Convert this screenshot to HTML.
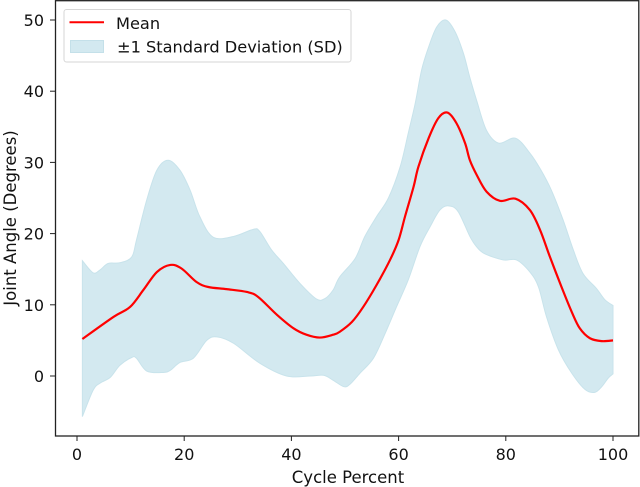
<!DOCTYPE html>
<html>
<head>
<meta charset="utf-8">
<style>
html,body{margin:0;padding:0;background:#fff;width:640px;height:487px;overflow:hidden}
svg{display:block;font-family:"DejaVu Sans","Liberation Sans",sans-serif;fill:#111;filter:blur(0.35px)}
</style>
</head>
<body>
<svg id="chart" width="640" height="487" viewBox="0 0 640 487" xmlns="http://www.w3.org/2000/svg">
  <g id="plot"></g>
  <g id="xticks"></g>
  <g id="yticks"></g>
  <rect x="55.5" y="0.7" width="583.3" height="435.3" fill="none" stroke="#222" stroke-width="1.3"/>
  <text x="348" y="483" font-size="16.5" text-anchor="middle">Cycle Percent</text>
  <text transform="translate(16,218) rotate(-90)" font-size="16.5" text-anchor="middle">Joint Angle (Degrees)</text>
  <g>
    <rect x="64" y="9.5" width="287" height="52.5" rx="2.5" fill="#fff" stroke="#d6d6d6" stroke-width="1"/>
    <line x1="69.5" y1="22.3" x2="104" y2="22.3" stroke="#ff0000" stroke-width="2"/>
    <text x="116" y="29" font-size="16.2">Mean</text>
    <rect x="70.5" y="40.5" width="33" height="12" fill="#d3e9f0" stroke="#c4e0e9"/>
    <text x="117" y="52.5" font-size="16.2">±1 Standard Deviation (SD)</text>
  </g>
</svg>
<script>
const meanX = [1,6.8,9.9,12.4,14.9,17.4,19.5,22.3,24.5,27.9,31.7,33.8,37.3,40.4,42.8,45.3,47.8,49,51.3,53.4,55.9,58.4,60,61.2,62.8,63.7,65.6,67.4,69.1,70.8,72.4,73.3,74.6,76.4,78.9,81.8,84.5,86.4,88.2,90.4,92.3,93.8,95.7,97.9,100];
const meanY = [5.2,8.3,9.7,12.1,14.6,15.6,15.1,13.2,12.5,12.2,11.8,11.1,8.6,6.7,5.8,5.4,5.8,6.2,7.6,9.7,12.8,16.3,19.1,22.4,26.6,29.4,33.4,36.2,37,35.5,32.7,30.3,28.2,25.9,24.6,24.9,23.3,20.5,16.8,12.5,9,6.7,5.3,4.9,5];
const upperX = [1,3,4.3,5.8,8,10.2,11.1,13,14.9,17,19.2,21.1,22.9,25.4,29.2,32.9,34.1,36.3,38.5,41.6,44.7,46.3,47.8,49,51.9,53.7,55.9,58.1,60.3,61.8,63.1,64.3,65.6,67.1,68.8,70.5,72.1,73.3,74.6,76.4,78.7,81.8,84.5,86.5,88.5,90.7,92.6,94.4,96.9,98.5,100];
const upperY = [16.2,14.5,14.9,15.8,15.9,16.7,19.1,24.7,28.9,30.3,28.9,26.1,22.4,19.5,19.6,20.6,20.3,17.7,15.8,13,10.8,10.9,12.1,13.9,16.5,19.6,22.4,25,29.4,34.1,38.3,43,46.2,49,50,48.4,45.3,41.9,38.6,34.5,32.7,33.4,31.3,29,26.1,21.9,17.7,14.4,12.3,10.7,9.9];
const lowerX = [1,3,4.3,6.2,8,10.2,11.1,13,16.1,17.4,19.2,21.7,24.2,26.1,29.2,34.1,39.1,43.5,46,47.8,49.8,51,52.8,55.3,57.5,59.6,61.8,64,65.9,67.7,69.3,71.1,73.3,74.5,76,79.5,82,84.5,86.1,87.6,89.8,92.3,94.8,96.6,97.9,99.1,100];
const lowerY = [-5.7,-2,-1,-0.2,1.5,2.6,2.5,0.7,0.5,0.8,1.9,2.5,5,5.5,4.6,1.8,0,0,0.1,-0.6,-1.5,-1.1,0.4,2.5,6,9.7,13.5,18.2,21,23.3,23.9,23.1,19.6,18.2,17.2,16.3,16.3,14.6,12.5,8.3,3.7,0.4,-1.9,-2.3,-1.5,-0.3,0.3];
const xTickValues = [0,20,40,60,80,100];
const yTickValues = [0,10,20,30,40,50];

const NS = 'http://www.w3.org/2000/svg';
function sx(v){ return 77 + v * 5.36; }
function sy(v){ return 376 - v * 7.12; }
function curve(xs, ys, move){
  const p = xs.map((x,i)=>[sx(x), sy(ys[i])]);
  let d = (move ? 'M' : 'L') + p[0][0].toFixed(2) + ' ' + p[0][1].toFixed(2);
  for (let i = 0; i < p.length - 1; i++){
    const a = p[Math.max(i-1,0)], b = p[i], c = p[i+1], e = p[Math.min(i+2,p.length-1)];
    d += 'C' + (b[0]+(c[0]-a[0])/6).toFixed(2) + ' ' + (b[1]+(c[1]-a[1])/6).toFixed(2) + ' '
      + (c[0]-(e[0]-b[0])/6).toFixed(2) + ' ' + (c[1]-(e[1]-b[1])/6).toFixed(2) + ' '
      + c[0].toFixed(2) + ' ' + c[1].toFixed(2);
  }
  return d;
}
const plot = document.getElementById('plot');
const band = document.createElementNS(NS,'path');


band.setAttribute('d', curve(upperX, upperY, true) + curve(lowerX.slice().reverse(), lowerY.slice().reverse(), false) + 'Z');
band.setAttribute('fill', '#d3e9f0');
band.setAttribute('stroke', '#c8e3eb');
band.setAttribute('stroke-width', '1');
plot.appendChild(band);
const line = document.createElementNS(NS,'path');


line.setAttribute('d', curve(meanX, meanY, true));
line.setAttribute('fill', 'none');
line.setAttribute('stroke', '#ff0000');
line.setAttribute('stroke-width', '2.2');
plot.appendChild(line);

const xg = document.getElementById('xticks');
xTickValues.forEach(function(v){
  const t = document.createElementNS(NS,'line');
  
  
  t.setAttribute('x1', sx(v)); t.setAttribute('x2', sx(v));
  t.setAttribute('y1', 436); t.setAttribute('y2', 441);
  t.setAttribute('stroke', '#222');
  xg.appendChild(t);
  const l = document.createElementNS(NS,'text');
  
  
  l.setAttribute('x', sx(v)); l.setAttribute('y', 460);
  l.setAttribute('font-size', '16');
  l.setAttribute('text-anchor', 'middle');
  l.textContent = v;
  xg.appendChild(l);
});
const yg = document.getElementById('yticks');
yTickValues.forEach(function(v){
  const t = document.createElementNS(NS,'line');
  
  
  t.setAttribute('x1', 50); t.setAttribute('x2', 55);
  t.setAttribute('y1', sy(v)); t.setAttribute('y2', sy(v));
  t.setAttribute('stroke', '#222');
  yg.appendChild(t);
  const l = document.createElementNS(NS,'text');
  
  
  l.setAttribute('x', 44); l.setAttribute('y', sy(v) + 6);
  l.setAttribute('font-size', '16');
  l.setAttribute('text-anchor', 'end');
  l.textContent = v;
  yg.appendChild(l);
});
</script>
</body>
</html>
